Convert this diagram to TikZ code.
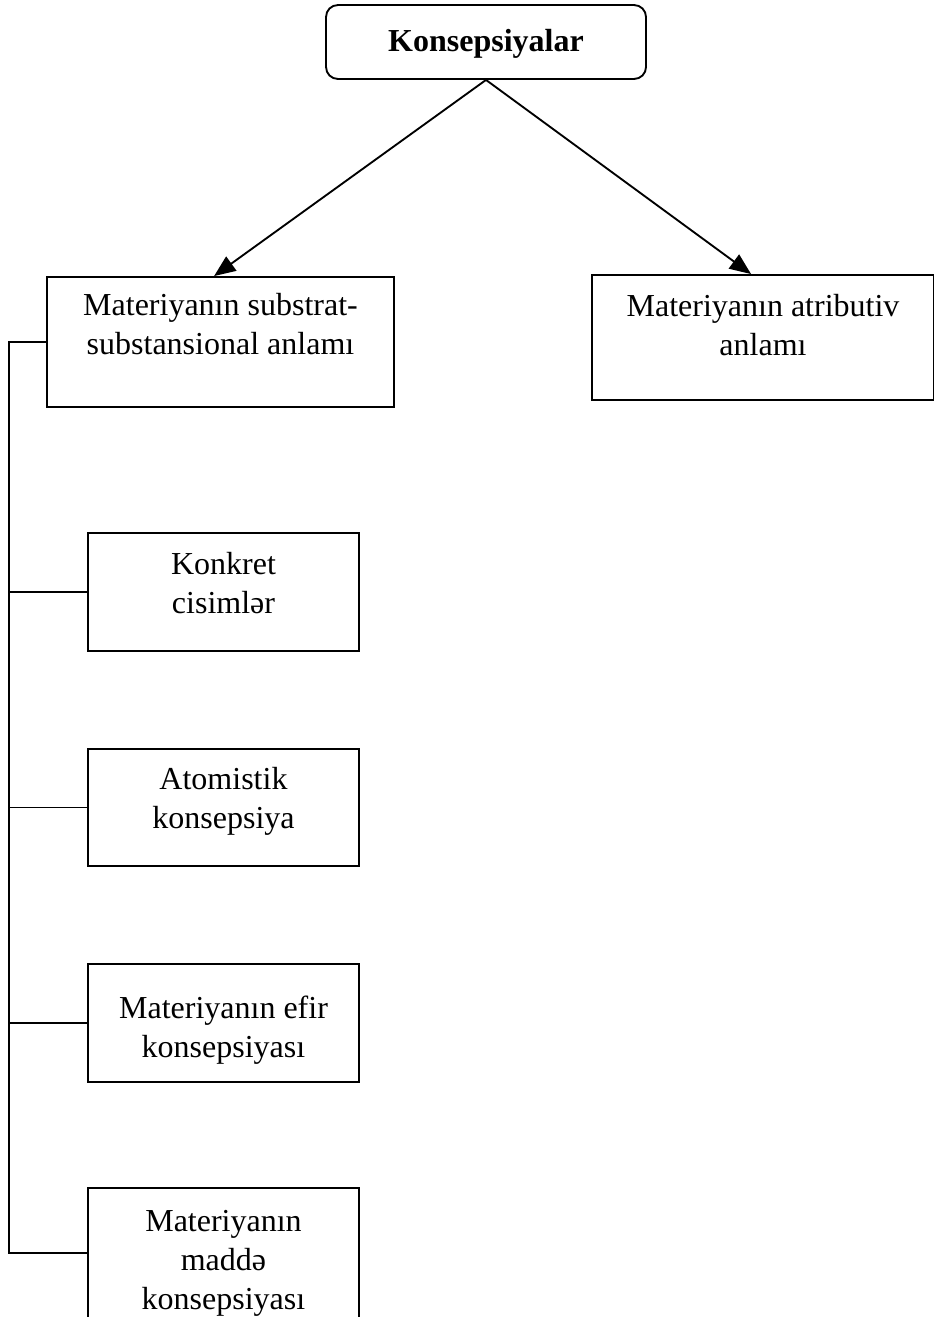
\documentclass[tikz,border=0pt]{standalone}
\usepackage{fontspec}
\setmainfont{Liberation Serif}
\usetikzlibrary{arrows.meta}
\begin{document}
\begin{tikzpicture}[x=0.75pt,y=-0.75pt,
  box/.style={draw,line width=1.4pt,inner sep=0pt},
  txt/.style={align=center,inner sep=0pt,font=\fontsize{24}{29.25}\selectfont},
  conn/.style={line width=1.4pt},
  arr/.style={line width=1.4pt,-{Triangle[length=16pt,width=13pt]}}]
\clip (0,0) rectangle (934,1317);
\path[fill=white] (0,0) rectangle (934,1317);
% top
\node[box,rounded corners=9pt,minimum width=240pt,minimum height=55.5pt] (T) at (486,42) {};
\node[txt,anchor=base,font=\fontsize{24}{29.25}\selectfont\bfseries] (Tt) at (486,51) {Konsepsiyalar};
% level 1
\node[box,minimum width=260.25pt,minimum height=97.5pt] (A) at (220.5,342) {};
\node[txt,anchor=base] (At) at (220.5,354) {Materiyanın substrat-\\substansional anlamı};
\node[box,minimum width=256.5pt,minimum height=93.75pt] (B) at (763,337.5) {};
\node[txt,anchor=base] (Bt) at (763,355) {Materiyanın atributiv\\anlamı};
% children
\node[box,minimum width=203.25pt,minimum height=88.5pt] (C) at (223.5,592) {};
\node[txt,anchor=base] (Ct) at (223.5,613) {Konkret\\cisimlər};
\node[box,minimum width=203.25pt,minimum height=87.75pt] (D) at (223.5,807.5) {};
\node[txt,anchor=base] (Dt) at (223.5,828) {Atomistik\\konsepsiya};
\node[box,minimum width=203.25pt,minimum height=88.5pt] (E) at (223.5,1023) {};
\node[txt,anchor=base] (Et) at (223.5,1057) {Materiyanın efir\\konsepsiyası};
\node[box,minimum width=203.25pt,minimum height=97.5pt] (F) at (223.5,1253) {};
\node[txt,anchor=base] (Ft) at (223.5,1309) {Materiyanın\\maddə\\konsepsiyası};
% arrows
\draw[arr] (T.south) -- ([xshift=126pt]A.north west);
\draw[arr] (T.south) -- ([xshift=120pt]B.north west);
% trunk
\coordinate (trunk) at (9,0);
\draw[conn] (A.west) -- (A.west -| trunk) -- (F.west -| trunk) -- (F.west);
\draw[conn] (C.west) -- (C.west -| trunk);
\draw[conn] (D.west) -- (D.west -| trunk);
\draw[conn] (E.west) -- (E.west -| trunk);
\end{tikzpicture}
\end{document}
